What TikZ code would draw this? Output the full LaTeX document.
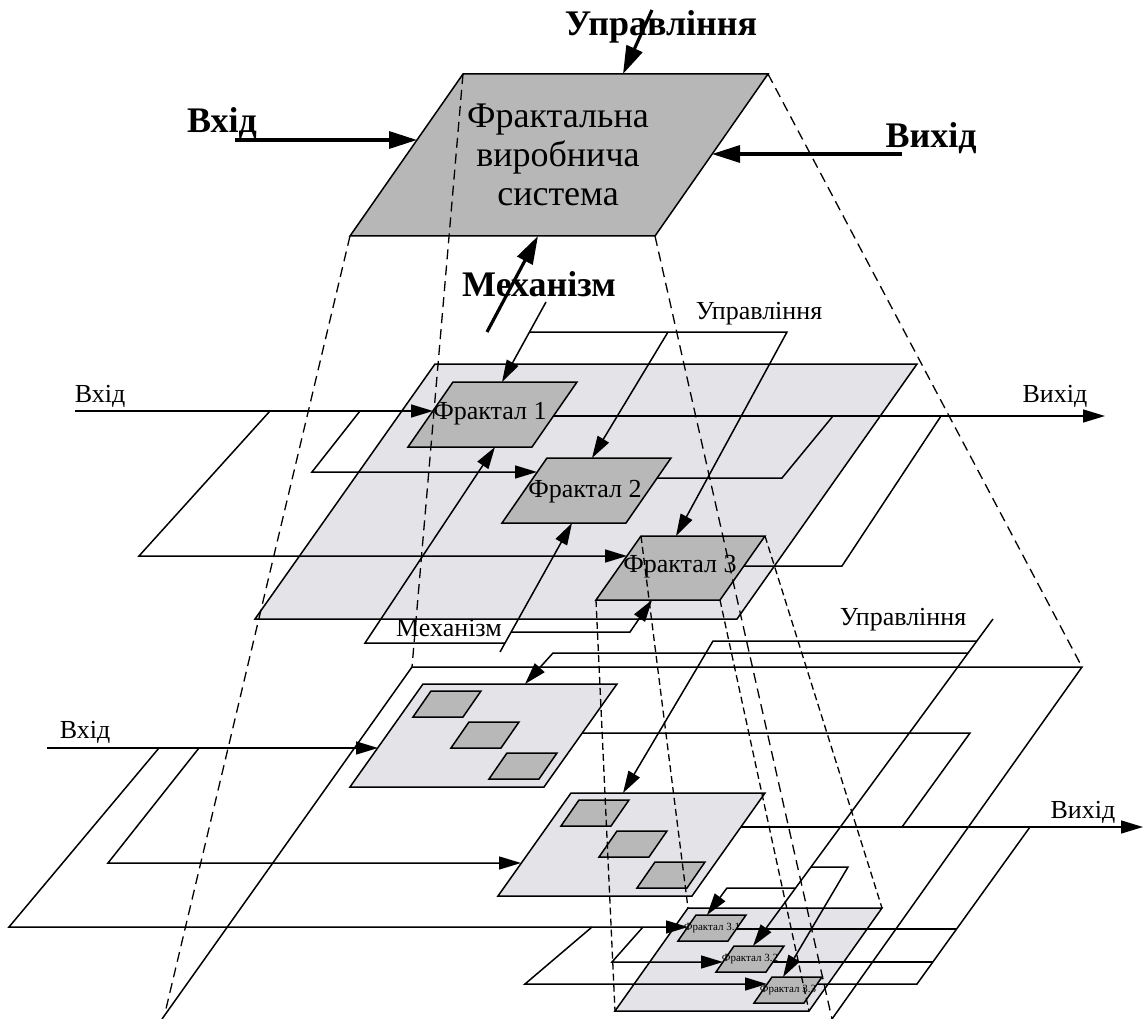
\documentclass[tikz,border=0pt]{standalone}
\usepackage{fontspec}
\setmainfont{Liberation Serif}
\usetikzlibrary{arrows.meta,calc}
\definecolor{sysgray}{RGB}{183,183,183}
\definecolor{planegray}{RGB}{228,227,231}
\definecolor{subgray}{RGB}{184,184,184}

% a decomposition plane with three sub-fractals; #1 name, (#2,#3) top-left corner
\newcommand\fracplane[3]{%
  \begin{scope}[shift={(#2,#3)}]
    \filldraw[plane] (0,0) coordinate (#1-tl) -- (194,0) coordinate (#1-tr)
      -- (121,103) coordinate (#1-br) -- (-73,103) coordinate (#1-bl) -- cycle;
    \filldraw[sub] (8,7) coordinate (#1-1) -- ++(50,0) -- ++(-18,26) -- ++(-50,0) -- cycle;
    \filldraw[sub] (46,38) coordinate (#1-2) -- ++(50,0) -- ++(-18,26) -- ++(-50,0) -- cycle;
    \filldraw[sub] (84,69) coordinate (#1-3) -- ++(50,0) -- ++(-18,26) -- ++(-50,0) -- cycle;
  \end{scope}}

\begin{document}
\begin{tikzpicture}[x=1pt,y=-1pt,line join=miter,
  wire/.style={line width=1.5pt},
  flow/.style={wire,-{Triangle[length=22pt,width=13pt]}},
  heavy/.style={line width=3.2pt,-{Triangle[length=28pt,width=17pt]}},
  proj/.style={line width=1.3pt,dash pattern=on 10pt off 6pt},
  projs/.style={line width=1.3pt,dash pattern=on 7pt off 4pt},
  sysbox/.style={fill=sysgray,draw=black,line width=1.5pt},
  plane/.style={fill=planegray,draw=black,line width=1.5pt},
  sub/.style={fill=subgray,draw=black,line width=1.5pt},
  big/.style={font=\fontsize{36}{39}\selectfont\bfseries,inner sep=0pt},
  lab/.style={font=\fontsize{26}{30}\selectfont,inner sep=0pt},
  tiny/.style={font=\fontsize{11}{13}\selectfont,inner sep=0pt}]
\useasboundingbox (0,0) rectangle (1144,1019);

% ---------- top level: the whole production system ----------
\filldraw[sysbox] (463,74) coordinate (S-tl) -- (768,74) coordinate (S-tr)
  -- (655,236) coordinate (S-br) -- (350,236) coordinate (S-bl) -- cycle;
\node[align=center,font=\fontsize{36}{39}\selectfont,inner sep=0pt] (S) at (558,155)
  {Фрактальна\\виробнича\\система};

\node[big] (inS) at (222,123) {Вхід};
\node[big] (outS) at (931,138) {Вихід};
\node[big] (ctlS) at (661,27) {Управління};
\node[big] (mechS) at (539,284) {Механізм};

\coordinate (inS0) at (235,140);   \coordinate (inS1) at (417,140);
\coordinate (outS0) at (902,154);  \coordinate (outS1) at (712,154);
\coordinate (ctlS0) at (652,10);   \coordinate (ctlS1) at (623,74);
\coordinate (mechS0) at (487,332); \coordinate (mechS1) at (538,236);
\draw[heavy] (inS0) -- (inS1);
\draw[heavy] (outS0) -- (outS1);
\draw[heavy] (ctlS0) -- (ctlS1);
\draw[heavy] (mechS0) -- (mechS1);

% ---------- level 1 ----------
\filldraw[plane] (435,364) coordinate (L1-tl) -- (917,364) coordinate (L1-tr)
  -- (737,619) coordinate (L1-br) -- (255,619) coordinate (L1-bl) -- cycle;
\filldraw[sub] (453,382) coordinate (F1-tl) -- (577,382) coordinate (F1-tr)
  -- (532,447) coordinate (F1-br) -- (408,447) coordinate (F1-bl) -- cycle;
\filldraw[sub] (547,458) coordinate (F2-tl) -- (671,458) coordinate (F2-tr)
  -- (626,523) coordinate (F2-br) -- (502,523) coordinate (F2-bl) -- cycle;
\filldraw[sub] (641,536) coordinate (F3-tl) -- (765,536) coordinate (F3-tr)
  -- (720,600) coordinate (F3-br) -- (596,600) coordinate (F3-bl) -- cycle;
\node[lab] (F1) at (490,414) {Фрактал 1};
\node[lab] (F2) at (585,492) {Фрактал 2};
\node[lab] (F3) at (680,567) {Фрактал 3};

\node[lab] (in1) at (100,396) {Вхід};
\node[lab] (out1) at (1055,396) {Вихід};
\node[lab] (ctl1) at (759,314) {Управління};
\node[lab] (mech1) at (449,628) {Механізм};

% inputs
\coordinate (i1a) at (75,411);   \coordinate (i1b) at (270,411); \coordinate (i1c) at (360,411);
\coordinate (F1in) at (433,411);
\coordinate (i1d) at (139,556);  \coordinate (F3in) at (627,556);
\coordinate (i1e) at (312,472);  \coordinate (F2in) at (537,472);
\draw[flow] (i1a) -- (F1in);
\draw[flow] (i1b) -- (i1d) -- (F3in);
\draw[flow] (i1c) -- (i1e) -- (F2in);
% outputs
\coordinate (F1out) at (553,416); \coordinate (o1end) at (1105,416);
\coordinate (o1b) at (833,416); \coordinate (o1c) at (782,478); \coordinate (F2out) at (657,478);
\coordinate (o1d) at (941,416); \coordinate (o1e) at (842,566); \coordinate (F3out) at (744,566);
\draw[flow] (F1out) -- (o1end);
\draw[wire] (o1b) -- (o1c) -- (F2out);
\draw[wire] (o1d) -- (o1e) -- (F3out);
% controls
\coordinate (c1a) at (546,302); \coordinate (F1top) at (502,382);
\coordinate (c1b) at (529,332); \coordinate (c1c) at (787,332); \coordinate (F3top) at (676,536);
\coordinate (c1d) at (668,332); \coordinate (F2top) at (592,458);
\draw[flow] (c1a) -- (F1top);
\draw[flow] (c1b) -- (c1c) -- (F3top);
\draw[flow] (c1d) -- (F2top);
% mechanisms
\coordinate (m1a) at (500,652); \coordinate (F2bot) at (572,523);
\coordinate (m1b) at (505,643); \coordinate (m1c) at (365,643); \coordinate (F1bot) at (495,447);
\coordinate (m1d) at (511,632); \coordinate (m1e) at (630,632); \coordinate (F3bot) at (652,600);
\draw[flow] (m1a) -- (F2bot);
\draw[flow] (m1b) -- (m1c) -- (F1bot);
\draw[flow] (m1d) -- (m1e) -- (F3bot);

% ---------- level 2 ----------
\coordinate (O-bl) at (162,1019); \coordinate (O-tl) at (412,667);
\coordinate (O-tr) at (1082,667); \coordinate (O-br) at (832,1019);
\draw[wire] (O-bl) -- (O-tl) -- (O-tr) -- (O-br);

\fracplane{A}{423}{684}
\fracplane{B}{571}{793}
\fracplane{C}{688}{908}
\node[tiny] (C1) at ($(C-1)+(16,13)$) {Фрактал 3.1};
\node[tiny] (C2) at ($(C-2)+(16,13)$) {Фрактал 3.2};
\node[tiny] (C3) at ($(C-3)+(16,13)$) {Фрактал 3.3};

\node[lab] (in2) at (85,732) {Вхід};
\node[lab] (out2) at (1083,812) {Вихід};
\node[lab] (ctl2) at (903,620) {Управління};

% inputs
\coordinate (i2a) at (47,748); \coordinate (Ain) at (378,748);
\coordinate (i2b) at (159,748); \coordinate (i2c) at (9,927); \coordinate (C1in) at (688,927);
\coordinate (i2d) at (199,748); \coordinate (i2e) at (108,863); \coordinate (Bin) at (521,863);
\coordinate (i2f) at (592,927); \coordinate (i2g) at (525,984); \coordinate (C3in) at (767,984);
\coordinate (i2h) at (643,927); \coordinate (i2i) at (612,962); \coordinate (C2in) at (723,962);
\draw[flow] (i2a) -- (Ain);
\draw[flow] (i2b) -- (i2c) -- (C1in);
\draw[flow] (i2d) -- (i2e) -- (Bin);
\draw[flow] (i2f) -- (i2g) -- (C3in);
\draw[flow] (i2h) -- (i2i) -- (C2in);
% outputs
\coordinate (Bout) at (741,827); \coordinate (o2end) at (1143,827);
\coordinate (Aout) at (582,733); \coordinate (o2a) at (970,733); \coordinate (o2b) at (902,827);
\coordinate (o2c) at (1030,827); \coordinate (o2d) at (917,984); \coordinate (C3out) at (817,984);
\coordinate (C1out) at (736,929); \coordinate (o2e) at (957,929);
\coordinate (C2out) at (773,962); \coordinate (o2f) at (933,962);
\draw[flow] (Bout) -- (o2end);
\draw[wire] (Aout) -- (o2a) -- (o2b);
\draw[wire] (o2c) -- (o2d) -- (C3out);
\draw[wire] (C1out) -- (o2e);
\draw[wire] (C2out) -- (o2f);
% controls
\coordinate (c2a) at (993,619); \coordinate (C2top) at (753,946);
\coordinate (c2b) at (977,641); \coordinate (c2c) at (713,641); \coordinate (Btop) at (623,793);
\coordinate (c2d) at (968,653); \coordinate (c2e) at (553,653); \coordinate (Atop) at (525,684);
\coordinate (c2f) at (811,867); \coordinate (c2g) at (848,867); \coordinate (C3top) at (783,977);
\coordinate (c2h) at (796,888); \coordinate (c2i) at (727,888); \coordinate (C1top) at (707,915);
\draw[flow] (c2a) -- (C2top);
\draw[flow] (c2b) -- (c2c) -- (Btop);
\draw[flow] (c2d) -- (c2e) -- (Atop);
\draw[flow] (c2f) -- (c2g) -- (C3top);
\draw[flow] (c2h) -- (c2i) -- (C1top);

% ---------- projection lines ----------
\draw[proj] (S-tl) -- (O-tl);
\draw[proj] (S-tr) -- (O-tr);
\draw[proj] (S-bl) -- (165,1013);
\draw[proj] (S-br) -- (O-br);
\draw[projs] (F3-tl) -- (C-tl);
\draw[projs] (F3-tr) -- (C-tr);
\draw[projs] (F3-br) -- (C-br);
\draw[projs] (F3-bl) -- (C-bl);
\end{tikzpicture}
\end{document}
